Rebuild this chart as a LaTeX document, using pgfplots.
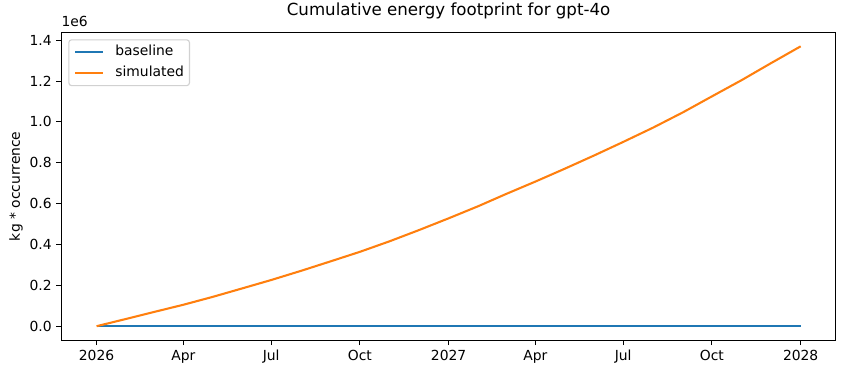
\documentclass[border=0pt]{standalone}
\usepackage{fontspec}
\setmainfont{DejaVu Sans}
\usepackage{pgfplots}
\pgfplotsset{compat=1.18}
\definecolor{c0}{HTML}{1F77B4}
\definecolor{c1}{HTML}{FF7F0E}
\begin{document}
\begin{tikzpicture}
\begin{axis}[
  scale only axis, width=558pt, height=221.8pt,
  xmin=-36.5, xmax=766.5, ymin=-68500, ymax=1438500,
  xtick={0,90,181,273,365,455,546,638,730},
  xticklabels={2026,Apr,Jul,Oct,2027,Apr,Jul,Oct,2028},
  ytick={0,200000,400000,600000,800000,1000000,1200000,1400000},
  scaled y ticks=base 10:-6,
  ytick scale label code/.code={1e6},
  every y tick scale label/.style={at={(rel axis cs:0,1)}, anchor=south west, inner sep=0pt, yshift=4pt},
  /pgf/number format/fixed, /pgf/number format/fixed zerofill, /pgf/number format/precision=1,
  /pgf/number format/assume math mode=true,
  tick align=outside, tick pos=left, major tick length=3.5pt,
  tick style={black, line width=0.8pt},
  axis line style={line width=0.8pt},
  ylabel={kg * occurrence},
  ylabel style={yshift=-2pt},
  title={Cumulative energy footprint for gpt-4o},
  title style={at={(rel axis cs:0.5,1)}, anchor=base, yshift=6pt, font=\fontsize{12}{14}\selectfont},
  legend style={at={(rel axis cs:0,1)}, xshift=5pt, yshift=-5pt, anchor=north west,
    draw=black!18, line width=0.8pt, rounded corners=2pt, inner xsep=4pt, inner ysep=4pt,
    row sep=5pt, column sep=8pt,
    nodes={inner sep=0pt, text height=7.6pt, text depth=2.4pt}},
  legend cell align=left,
  legend image code/.code={\draw[#1] (0pt,0pt) -- (20pt,0pt);},
]
\addplot[c0, line width=1.5pt] coordinates {(0,0) (730,0)};
\addlegendentry{baseline}
\addplot[c1, line width=1.5pt, line join=round] coordinates {
(0,0) (31,36000) (59,69000) (90,105000) (120,143000) (151,185000) (181,226000)
(212,271000) (243,318000) (273,364000) (304,416000) (334,470000) (365,528000)
(396,588000) (424,646000) (455,708000) (485,770000) (516,836000) (546,902000)
(577,972000) (608,1047000) (638,1125000) (669,1205000) (699,1287000) (730,1370000)};
\addlegendentry{simulated}
\end{axis}
\pgfresetboundingbox
\path ([xshift=-44.2pt, yshift=-24.5pt]current axis.south west) rectangle ([xshift=7.3pt, yshift=23.3pt]current axis.north east);
\end{tikzpicture}
\end{document}
